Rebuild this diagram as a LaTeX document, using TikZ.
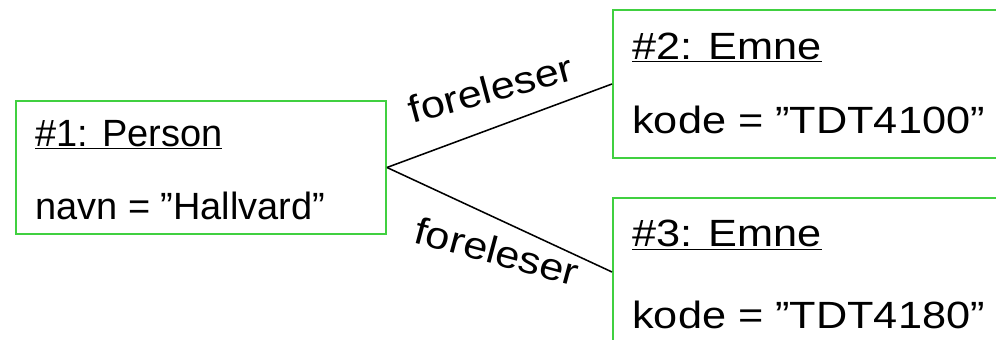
\documentclass[tikz,border=0pt]{standalone}
\usepackage{fontspec}
\setmainfont{Liberation Sans}
\usepackage{tikz}
\usetikzlibrary{calc}

\definecolor{boxgreen}{RGB}{64,208,64}

\begin{document}
\begin{tikzpicture}[
        objbox/.style={draw=boxgreen, line width=1.4pt, anchor=north west, inner sep=0pt},
        objtext/.style={anchor=base west, inner sep=0pt, font=\fontsize{27}{32}\selectfont},
        wide/.style={xscale=1.14},
        link/.style={line width=1.1pt},
        role/.style={anchor=base, inner sep=0pt, xscale=1.14, font=\fontsize{27}{32}\selectfont}
    ]

        % Picture frame
        \path[use as bounding box, clip] (0,0) rectangle (24.9,8.475);

        % Object boxes
        \node[objbox, minimum width=9.25cm, minimum height=3.325cm] (person) at (0.375,5.975) {};
        \node[objbox, minimum width=10.5cm, minimum height=3.7cm] (emneA) at (15.3,8.25) {};
        \node[objbox, minimum width=10.5cm, minimum height=3.7cm] (emneB) at (15.3,3.55) {};

        % Object names and attributes
        \node[objtext] (personName) at ($(person.north west)+(0.5,-1.15)$) {\underline{\#1: Person}};
        \node[objtext] (personAttr) at ($(person.north west)+(0.5,-2.975)$) {navn = ”Hallvard”};
        \node[objtext, wide] (emneAName) at ($(emneA.north west)+(0.5,-1.25)$) {\underline{\#2: Emne}};
        \node[objtext, wide] (emneAAttr) at ($(emneA.north west)+(0.5,-3.1)$) {kode = ”TDT4100”};
        \node[objtext, wide] (emneBName) at ($(emneB.north west)+(0.5,-1.24)$) {\underline{\#3: Emne}};
        \node[objtext, wide] (emneBAttr) at ($(emneB.north west)+(0.5,-3.275)$) {kode = ”TDT4180”};

        % Links between the objects
        \draw[link] (person.east) -- (emneA.west);
        \draw[link] (person.east) -- (emneB.west);

        % Link names
        \node[rotate=15, role] (roleA) at ($(person.east)!0.476!(emneA.west)+(0,0.65)$) {foreleser};
        \node[rotate=-15, role] (roleB) at ($(person.east)!0.474!(emneB.west)+(0,-1.18)$) {foreleser};

\end{tikzpicture}
\end{document}
